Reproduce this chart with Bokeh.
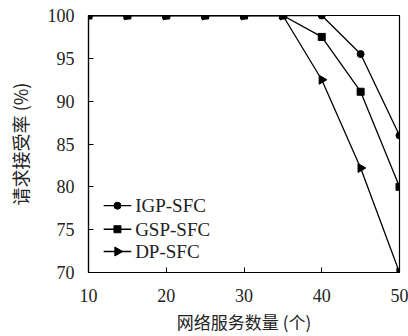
from bokeh.plotting import figure
from bokeh.models import Range1d, FixedTicker
from bokeh.core.properties import value
from bokeh.embed import file_html
from bokeh.resources import INLINE

x = [10, 15, 20, 25, 30, 35, 40, 45, 50]
igp = [100, 100, 100, 100, 100, 100, 100, 95.5, 86.0]
gsp = [100, 100, 100, 100, 100, 100, 97.5, 91.1, 80.0]
dp = [100, 100, 100, 100, 100, 100, 92.5, 82.2, 70.0]
series_names = ["IGP-SFC", "GSP-SFC", "DP-SFC"]
x_ticks = [10, 20, 30, 40, 50]
y_ticks = [70, 75, 80, 85, 90, 95, 100]

# legend placement (data coordinates of the frame)
leg_x0, leg_x1, leg_text_x = 11.95, 15.5, 16.0
leg_y = [77.8, 75.05, 72.45]

p = figure(width=408, height=336, output_backend="svg", toolbar_location=None,
           x_range=Range1d(10, 50), y_range=Range1d(70, 100),
           min_border_left=88, min_border_right=9, min_border_top=15, min_border_bottom=61)
p.grid.visible = False
p.outline_line_color = "black"
p.outline_line_width = 1.2
p.background_fill_color = "white"

serif = "Liberation Serif"
cjk = "Noto Sans CJK SC"
for ax in (p.xaxis[0], p.yaxis[0]):
    ax.major_tick_in = 5
    ax.major_tick_out = 0
    ax.minor_tick_line_color = None
    ax.axis_line_color = "black"
    ax.axis_line_width = 1.2
    ax.major_tick_line_color = "black"
    ax.major_label_text_font = serif
    ax.major_label_text_font_size = "18px"
    ax.major_label_text_color = "#222222"
    ax.axis_label_text_font = cjk
    ax.axis_label_text_font_style = "normal"
    ax.axis_label_text_color = "#222222"

p.xaxis.ticker = FixedTicker(ticks=x_ticks)
p.yaxis.ticker = FixedTicker(ticks=y_ticks)
p.xaxis.axis_label = "网络服务数量 (个)"
p.yaxis.axis_label = "请求接受率 (%)"
p.xaxis.axis_label_text_font_size = "17px"
p.yaxis.axis_label_text_font_size = "18px"
p.xaxis.major_label_standoff = 16
p.yaxis.major_label_standoff = 14
p.xaxis.axis_label_standoff = 4
p.yaxis.axis_label_standoff = 12

styles = [("circle", 7, 0.0), ("square", 7, 0.0), ("triangle", 9, -1.5708)]
for ys, name, (marker, size, ang), ly in zip([igp, gsp, dp], series_names, styles, leg_y):
    p.line(x, ys, line_color="black", line_width=1.3)
    p.scatter(x, ys, marker=marker, size=size, color="black", angle=ang)
    # legend entry
    p.line([leg_x0, leg_x1], [ly, ly], line_color="black", line_width=1.3)
    p.scatter([(leg_x0 + leg_x1) / 2], [ly], marker=marker, size=size, color="black", angle=ang)
    p.text([leg_text_x], [ly], text=[name], text_font=value(serif), text_font_size="19px",
           text_baseline="middle", text_align="left", text_color="#222222")

open("out.html", "w").write(file_html(p, INLINE))
